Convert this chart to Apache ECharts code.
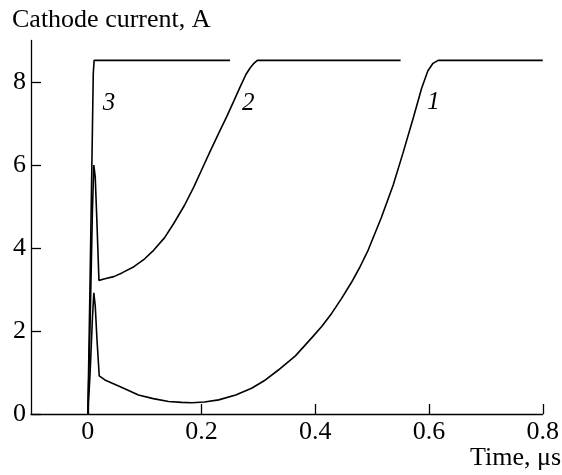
<!DOCTYPE html>
<html>
<head>
<meta charset="utf-8">
<script src="https://cdn.jsdelivr.net/npm/echarts@6/dist/echarts.min.js"></script>
<style>html,body{margin:0;padding:0;background:#fff;}#c{width:562px;height:475px;}</style>
</head>
<body>
<div id="c"></div>
<script>
// Curve 1
var t1 = [0, 0.004, 0.008, 0.0105, 0.013, 0.016, 0.02, 0.03, 0.043, 0.06, 0.089, 0.115, 0.142, 0.165, 0.183, 0.205, 0.23, 0.26, 0.288, 0.31, 0.335, 0.365, 0.394, 0.412, 0.429, 0.446, 0.464, 0.478, 0.493, 0.516, 0.537, 0.554, 0.572, 0.587, 0.598, 0.607, 0.616, 0.65, 0.7, 0.75, 0.8];
var v1 = [0, 1.0, 2.3, 2.92, 2.6, 1.8, 0.92, 0.82, 0.74, 0.64, 0.46, 0.37, 0.30, 0.28, 0.27, 0.29, 0.34, 0.46, 0.62, 0.80, 1.06, 1.40, 1.84, 2.12, 2.43, 2.78, 3.18, 3.53, 3.95, 4.73, 5.52, 6.28, 7.12, 7.85, 8.27, 8.45, 8.52, 8.52, 8.52, 8.52, 8.52];
// Curve 2
var t2 = [0, 0.004, 0.008, 0.0105, 0.013, 0.016, 0.0195, 0.03, 0.0456, 0.06, 0.081, 0.1, 0.116, 0.135, 0.151, 0.17, 0.186, 0.2, 0.215, 0.23, 0.244, 0.257, 0.268, 0.278, 0.285, 0.292, 0.298, 0.35, 0.45, 0.55];
var v2 = [0, 2.2, 4.9, 6.0, 5.7, 4.6, 3.22, 3.26, 3.31, 3.40, 3.55, 3.74, 3.95, 4.25, 4.59, 5.03, 5.46, 5.88, 6.33, 6.76, 7.16, 7.55, 7.89, 8.18, 8.33, 8.45, 8.52, 8.52, 8.52, 8.52];
// Curve 3
var t3 = [0, 0.004, 0.0075, 0.0095, 0.011, 0.1, 0.25];
var v3 = [0, 3.3, 6.4, 8.2, 8.52, 8.52, 8.52];

var curveNames = ['1', '2', '3'];
var labelT = [0.608, 0.282, 0.037];
var labelV = [7.5, 7.48, 7.48];

var xTicks = [0, 0.2, 0.4, 0.6, 0.8];
var yTicks = [0, 2, 4, 6, 8];
var yTitle = 'Cathode current, A';
var xTitle = 'Time, μs';

function pairs(t, v) { return t.map(function (x, i) { return [x, v[i]]; }); }

var FONT = 'Liberation Serif';
var allT = [t1, t2, t3], allV = [v1, v2, v3];
var series = allT.map(function (t, i) {
  return {
    type: 'line',
    name: curveNames[i],
    data: pairs(t, allV[i]),
    showSymbol: false,
    symbol: 'none',
    lineStyle: { color: '#000', width: 1.6 },
    animation: false,
    markPoint: {
      symbol: 'circle', symbolSize: 0,
      data: [{ coord: [labelT[i], labelV[i]], value: curveNames[i] }],
      label: { show: true, position: 'inside', formatter: curveNames[i], color: '#000', fontFamily: FONT, fontStyle: 'italic', fontSize: 25 },
      animation: false
    }
  };
});

var chart = echarts.init(document.getElementById('c'));
chart.setOption({
  backgroundColor: '#fff',
  animation: false,
  textStyle: { fontFamily: FONT },
  grid: { left: 31, right: 17, top: 40.5, bottom: 61, containLabel: false },
  xAxis: {
    type: 'value', min: -0.1, max: 0.8,
    axisLine: { show: true, onZero: false, lineStyle: { color: '#000', width: 1.3 } },
    axisTick: { show: true, inside: true, length: 10, customValues: xTicks, lineStyle: { color: '#000', width: 1.3 } },
    axisLabel: { show: true, customValues: xTicks, margin: 5, color: '#000', fontFamily: FONT, fontSize: 26,
      formatter: function (v) { return String(Math.round(v * 10) / 10); } },
    splitLine: { show: false }
  },
  yAxis: {
    type: 'value', min: 0, max: 9,
    axisLine: { show: true, onZero: false, lineStyle: { color: '#000', width: 1.3 } },
    axisTick: { show: true, inside: true, length: 10, customValues: yTicks, lineStyle: { color: '#000', width: 1.3 } },
    axisLabel: { show: true, customValues: yTicks, margin: 5, color: '#000', fontFamily: FONT, fontSize: 26 },
    splitLine: { show: false }
  },
  graphic: [
    { type: 'text', left: 12, top: 7, style: { text: yTitle, fill: '#000', fontFamily: FONT, fontSize: 26 } },
    { type: 'text', right: 1, top: 445, style: { text: xTitle, fill: '#000', fontFamily: FONT, fontSize: 26 } }
  ],
  series: series
});
</script>
</body>
</html>
